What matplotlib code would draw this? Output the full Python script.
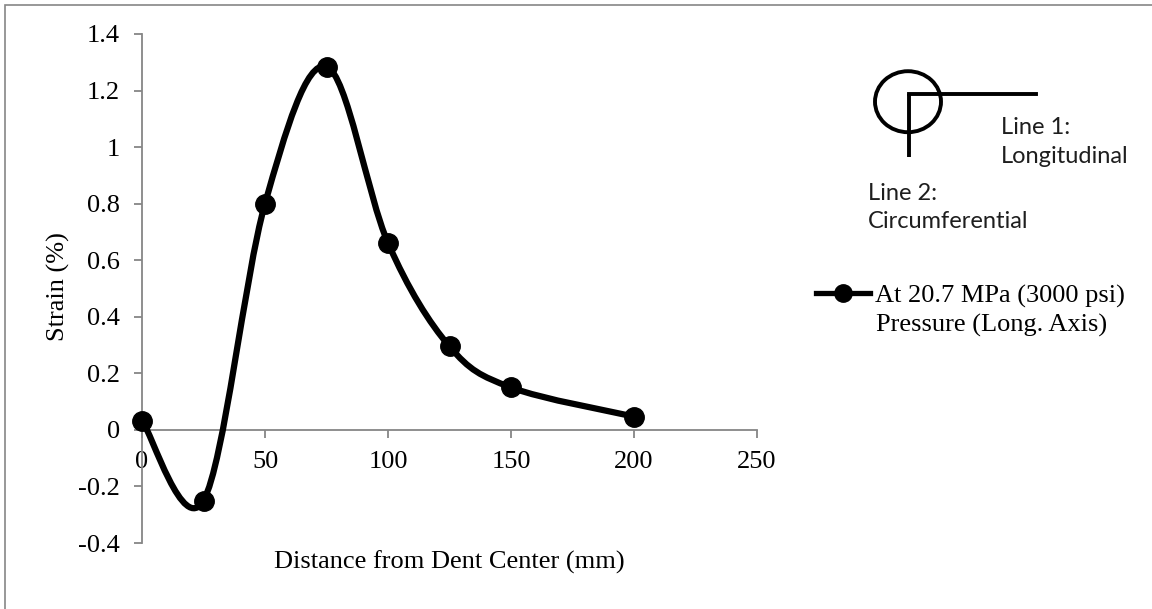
import numpy as np
import matplotlib
matplotlib.use('Agg')
import matplotlib.pyplot as plt
from matplotlib.path import Path
from matplotlib.patches import PathPatch, Rectangle, Ellipse
from matplotlib.lines import Line2D

# data
distance = [0, 25, 50, 75, 100, 125, 150, 200]
strain = [0.033, -0.25, 0.80, 1.285, 0.661, 0.295, 0.150, 0.047]

xticks = [0, 50, 100, 150, 200, 250]
yticks = [-0.4, -0.2, 0, 0.2, 0.4, 0.6, 0.8, 1.0, 1.2, 1.4]
ytick_labels = ['-0.4', '-0.2', '0', '0.2', '0.4', '0.6', '0.8', '1', '1.2', '1.4']

series_label = ['At 20.7 MPa (3000 psi)', 'Pressure (Long. Axis)']

plt.rcParams['font.family'] = ['Liberation Serif', 'DejaVu Serif']
grey = '#868686'
W, H = 1152, 609

fig = plt.figure(figsize=(W / 100, H / 100), dpi=100)
ax = fig.add_axes([142 / W, 1 - 543 / H, (757 - 142) / W, (543 - 34) / H])

# smoothed line, excel style (catmull-rom bezier through the points)
pts = np.column_stack([distance, strain])
n = len(pts)
verts = [pts[0]]
codes = [Path.MOVETO]
for i in range(n - 1):
    p0 = pts[max(i - 1, 0)]
    p1 = pts[i]
    p2 = pts[i + 1]
    p3 = pts[min(i + 2, n - 1)]
    verts += [p1 + (p2 - p0) / 6, p2 - (p3 - p1) / 6, p2]
    codes += [Path.CURVE4] * 3
curve = PathPatch(Path(verts, codes), fill=False, ec='black', lw=4.5,
                  capstyle='round', joinstyle='round', clip_on=False, zorder=3)
ax.add_patch(curve)
ax.plot(distance, strain, 'o', color='black', ms=14, clip_on=False, zorder=4)

ax.set_xlim(0, 250)
ax.set_ylim(-0.4, 1.4)
ax.set_xticks(xticks)
ax.set_xticklabels([str(t) for t in xticks])
ax.set_yticks(yticks)
ax.set_yticklabels(ytick_labels)

ax.spines['top'].set_visible(False)
ax.spines['right'].set_visible(False)
ax.spines['bottom'].set_position(('data', 0))
for s in ['left', 'bottom']:
    ax.spines[s].set_color(grey)
    ax.spines[s].set_linewidth(1.3)
ax.tick_params(axis='both', colors=grey, labelcolor='black', labelsize=19,
               length=6, width=1.3, direction='out')
ax.tick_params(axis='x', pad=9)
ax.tick_params(axis='y', pad=10)

ax.set_xlabel('Distance from Dent Center (mm)', fontsize=19)
ax.xaxis.set_label_coords(0.499, -0.015)
ax.set_ylabel('Strain (%)', fontsize=19)
ax.yaxis.set_label_coords(-0.117, 0.503)

# legend: handle sits on the first line of the label
handle = Line2D([], [], color='black', lw=3.8, marker='o', ms=12.5)
fig.legend([handle], [series_label[0]], loc='upper left',
           bbox_to_anchor=(816 / W, 1 - 284 / H), bbox_transform=fig.transFigure,
           frameon=False, fontsize=19, handlelength=2.05, handletextpad=0.2,
           borderpad=0, borderaxespad=0)
fig.text(876 / W, 1 - 331.7 / H, series_label[1], fontsize=19, va='baseline', ha='left')

# direction sketch in the corner
tf = fig.transFigure
fig.patches.append(Ellipse((908 / W, 1 - 101.7 / H), 66 / W, 61 / H, transform=tf,
                           fill=False, ec='black', lw=2.8))
fig.lines.append(Line2D([909 / W, 1036 / W], [1 - 94.3 / H, 1 - 94.3 / H],
                        transform=tf, color='black', lw=2.8))
fig.lines.append(Line2D([909 / W, 909 / W], [1 - 94.3 / H, 1 - 156.7 / H],
                        transform=tf, color='black', lw=2.8, solid_capstyle='butt'))
txt = dict(family=['Lato', 'DejaVu Sans'], fontsize=17, color='#1e1e1e', va='center', ha='left')
fig.text(1000.7 / W, 1 - 128 / H, 'Line 1:', **txt)
fig.text(1000.7 / W, 1 - 156.7 / H, 'Longitudinal', **txt)
fig.text(868.3 / W, 1 - 193.3 / H, 'Line 2:', **txt)
fig.text(868.3 / W, 1 - 221.7 / H, 'Circumferential', **txt)

# chart area border (only top and left fall inside the picture)
fig.patches.append(Rectangle((5 / W, -0.1), 1.2, 1.1 - 5 / H, transform=tf,
                             fill=False, ec=grey, lw=1.2))

fig.savefig('out.png', dpi=100)
